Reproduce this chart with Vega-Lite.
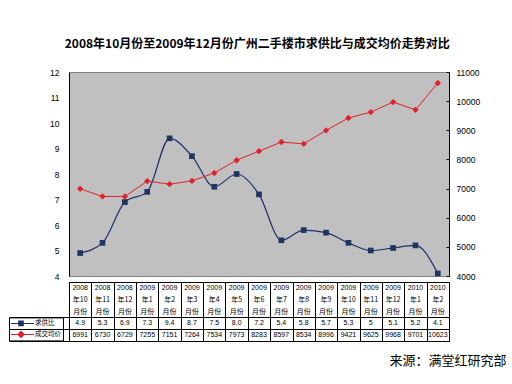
{
  "$schema": "https://vega.github.io/schema/vega-lite/v6.json",
  "background": "white",
  "padding": {"left": 8, "top": 37, "right": 5, "bottom": 5},
  "title": {"text": "2008年10月份至2009年12月份广州二手楼市求供比与成交均价走势对比", "font": "Noto Sans CJK SC", "fontSize": 12, "fontWeight": "bold", "color": "black", "anchor": "middle", "offset": 17},
  "datasets": {
    "d": [
      {"m": "2008年10月份", "yr": "2008", "mo": "年10", "r": 4.9, "rl": "4.9", "p": 6991},
      {"m": "2008年11月份", "yr": "2008", "mo": "年11", "r": 5.3, "rl": "5.3", "p": 6730},
      {"m": "2008年12月份", "yr": "2008", "mo": "年12", "r": 6.9, "rl": "6.9", "p": 6729},
      {"m": "2009年1月份", "yr": "2009", "mo": "年1", "r": 7.3, "rl": "7.3", "p": 7255},
      {"m": "2009年2月份", "yr": "2009", "mo": "年2", "r": 9.4, "rl": "9.4", "p": 7151},
      {"m": "2009年3月份", "yr": "2009", "mo": "年3", "r": 8.7, "rl": "8.7", "p": 7264},
      {"m": "2009年4月份", "yr": "2009", "mo": "年4", "r": 7.5, "rl": "7.5", "p": 7534},
      {"m": "2009年5月份", "yr": "2009", "mo": "年5", "r": 8.0, "rl": "8.0", "p": 7973},
      {"m": "2009年6月份", "yr": "2009", "mo": "年6", "r": 7.2, "rl": "7.2", "p": 8283},
      {"m": "2009年7月份", "yr": "2009", "mo": "年7", "r": 5.4, "rl": "5.4", "p": 8597},
      {"m": "2009年8月份", "yr": "2009", "mo": "年8", "r": 5.8, "rl": "5.8", "p": 8534},
      {"m": "2009年9月份", "yr": "2009", "mo": "年9", "r": 5.7, "rl": "5.7", "p": 8996},
      {"m": "2009年10月份", "yr": "2009", "mo": "年10", "r": 5.3, "rl": "5.3", "p": 9421},
      {"m": "2009年11月份", "yr": "2009", "mo": "年11", "r": 5.0, "rl": "5", "p": 9625},
      {"m": "2009年12月份", "yr": "2009", "mo": "年12", "r": 5.1, "rl": "5.1", "p": 9968},
      {"m": "2010年1月份", "yr": "2010", "mo": "年1", "r": 5.2, "rl": "5.2", "p": 9701},
      {"m": "2010年2月份", "yr": "2010", "mo": "年2", "r": 4.1, "rl": "4.1", "p": 10623}
    ],
    "legendrows": [{"s": "求供比"}, {"s": "成交均价"}]
  },
  "data": {"name": "d"},
  "spacing": 0,
  "vconcat": [
    {
      "width": 380,
      "height": 204,
      "view": {"fill": "#c0c0c0", "stroke": "#808080"},
      "encoding": {
        "x": {"field": "m", "type": "ordinal", "sort": null, "scale": {"type": "point", "padding": 0.5}, "axis": null}
      },
      "layer": [
        {
          "encoding": {
            "y": {"field": "r", "type": "quantitative", "scale": {"domain": [4, 12], "nice": false, "zero": false},
              "axis": {"orient": "left", "values": [4, 5, 6, 7, 8, 9, 10, 11, 12], "title": null, "grid": false, "ticks": false, "labelPadding": 10, "labelFont": "Liberation Sans", "labelFontSize": 8.5, "labelColor": "black", "domainColor": "black"}}
          },
          "layer": [
            {"mark": {"type": "line", "color": "#1d2f6e", "interpolate": "monotone", "strokeWidth": 1.2}},
            {"mark": {"type": "point", "shape": "square", "filled": true, "color": "#1d3560", "size": 32, "opacity": 1}}
          ]
        },
        {
          "encoding": {
            "y": {"field": "p", "type": "quantitative", "scale": {"domain": [4000, 11000], "nice": false, "zero": false},
              "axis": {"orient": "right", "values": [4000, 5000, 6000, 7000, 8000, 9000, 10000, 11000], "format": "d", "title": null, "grid": false, "tickSize": -3, "tickColor": "black", "labelPadding": 10, "labelFont": "Liberation Sans", "labelFontSize": 8.5, "labelColor": "black", "domainColor": "black"}}
          },
          "layer": [
            {"mark": {"type": "line", "color": "#e0202a", "strokeWidth": 1}},
            {"mark": {"type": "point", "shape": "diamond", "filled": true, "color": "#e0202a", "size": 40, "opacity": 1}}
          ]
        }
      ],
      "resolve": {"scale": {"y": "independent"}}
    },
    {
      "width": 380,
      "height": 59,
      "view": {"stroke": "black", "fill": "white"},
      "layer": [
        {
          "mark": {"type": "text", "font": "Liberation Sans", "fontSize": 7, "color": "black"},
          "encoding": {
            "x": {"field": "m", "type": "nominal", "sort": null, "scale": {"type": "band", "paddingInner": 0, "paddingOuter": 0},
              "axis": {"orient": "bottom", "tickBand": "extent", "grid": true, "gridColor": "black", "gridOpacity": 1, "labels": false, "ticks": false, "domain": false,
                "title": "来源：满堂红研究部", "titleFont": "Noto Sans CJK SC", "titleFontSize": 13, "titleFontWeight": "normal", "titleColor": "black", "titleAlign": "right", "titleAnchor": "end", "titleX": 437, "titleY": 23, "titleBaseline": "alphabetic"}},
            "y": {"datum": "h1", "type": "nominal", "scale": {"type": "band", "domain": ["h1", "h2", "h3", "r", "p"], "paddingInner": 0, "paddingOuter": 0},
              "axis": {"values": ["r", "p"], "tickBand": "extent", "grid": true, "gridColor": "black", "gridOpacity": 1, "tickSize": 60, "tickColor": "black", "labels": false, "domain": false, "title": null}},
            "text": {"field": "yr"}
          }
        },
        {
          "mark": {"type": "text", "font": "Noto Sans CJK SC", "fontSize": 7, "color": "black"},
          "encoding": {
            "x": {"field": "m", "type": "nominal", "sort": null},
            "y": {"datum": "h2", "type": "nominal"},
            "text": {"field": "mo"}
          }
        },
        {
          "mark": {"type": "text", "font": "Noto Sans CJK SC", "fontSize": 7, "color": "black"},
          "encoding": {
            "x": {"field": "m", "type": "nominal", "sort": null},
            "y": {"datum": "h3", "type": "nominal"},
            "text": {"value": "月份"}
          }
        },
        {
          "mark": {"type": "text", "font": "Liberation Sans", "fontSize": 7, "color": "black"},
          "encoding": {
            "x": {"field": "m", "type": "nominal", "sort": null},
            "y": {"datum": "r", "type": "nominal"},
            "text": {"field": "rl"}
          }
        },
        {
          "mark": {"type": "text", "font": "Liberation Sans", "fontSize": 7, "color": "black"},
          "encoding": {
            "x": {"field": "m", "type": "nominal", "sort": null},
            "y": {"datum": "p", "type": "nominal"},
            "text": {"field": "p"}
          }
        },
        {
          "data": {"name": "legendrows"},
          "mark": {"type": "point", "filled": true, "opacity": 0},
          "encoding": {
            "x": {"datum": "2008年10月份", "type": "nominal"},
            "y": {"datum": "r", "type": "nominal"},
            "color": {"field": "s", "type": "nominal", "scale": {"domain": ["求供比", "成交均价"], "range": ["#1d2f6e", "#e0202a"]},
              "legend": {"title": null, "orient": "none", "legendX": -60, "legendY": 35.4, "direction": "vertical", "strokeColor": "black", "padding": 2, "rowPadding": 3, "symbolSize": 64, "symbolOpacity": 1, "symbolStrokeWidth": 0, "labelFont": "Noto Sans CJK SC", "labelFontSize": 6.5, "labelColor": "black", "labelOffset": 16}},
            "shape": {"field": "s", "type": "nominal", "scale": {"domain": ["求供比", "成交均价"], "range": ["M-1,-0.13H4.75V0.13H-1Z M0.8,-0.7H2.2V0.7H0.8Z", "M-1,-0.13H4.75V0.13H-1Z M1.5,-0.95L2.45,0L1.5,0.95L0.55,0Z"]},
              "legend": {"title": null, "orient": "none", "legendX": -60, "legendY": 35.4, "direction": "vertical", "strokeColor": "black", "padding": 2, "rowPadding": 3, "symbolSize": 64, "symbolOpacity": 1, "symbolStrokeWidth": 0, "labelFont": "Noto Sans CJK SC", "labelFontSize": 6.5, "labelColor": "black", "labelOffset": 16}}
          }
        }
      ]
    }
  ],
  "resolve": {"legend": {"color": "independent", "shape": "independent"}}
}
